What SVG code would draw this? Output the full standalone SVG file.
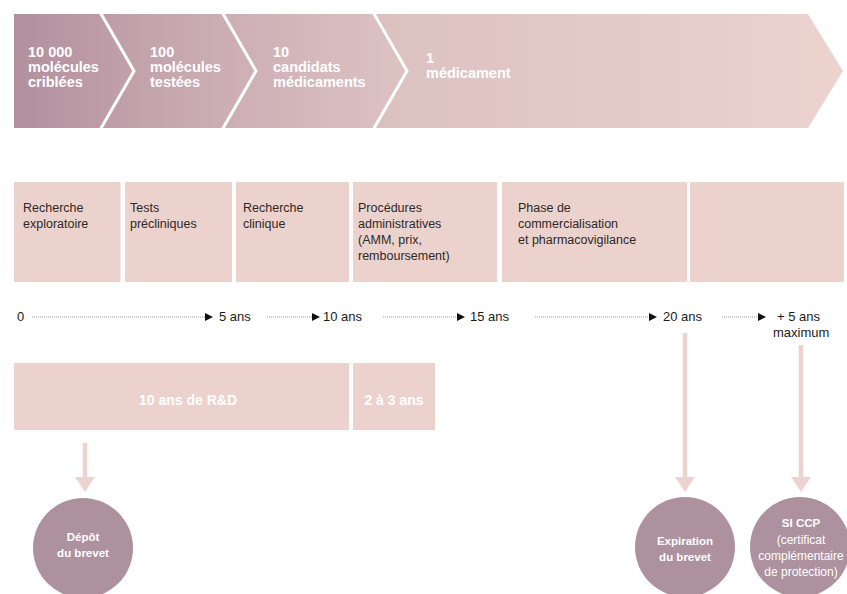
<svg xmlns="http://www.w3.org/2000/svg" width="847" height="594" viewBox="0 0 847 594">
<defs>
<linearGradient id="band" gradientUnits="userSpaceOnUse" x1="14" y1="0" x2="843" y2="0">
<stop offset="0" stop-color="#b28f9d"/>
<stop offset="0.2" stop-color="#c7a8b0"/>
<stop offset="0.45" stop-color="#dcc1c1"/>
<stop offset="1" stop-color="#ecd3ce"/>
</linearGradient>
<marker id="tick" markerUnits="userSpaceOnUse" viewBox="0 0 8 8" refX="0" refY="4" markerWidth="8" markerHeight="8" orient="auto">
<path d="M0,0 L8,4 L0,8 Z" fill="#111"/>
</marker>
<marker id="big" markerUnits="userSpaceOnUse" viewBox="0 0 15 20" refX="0" refY="10" markerWidth="15" markerHeight="20" orient="auto">
<path d="M0,0 L15,10 L0,20 Z" fill="#ecd3cf"/>
</marker>
<style>
.chev{font-family:"Liberation Sans",Arial,sans-serif;font-weight:bold;font-size:14.5px;fill:#fff}
.box{fill:#ecd2cd}
.lbl{font-family:"Liberation Sans",Arial,sans-serif;font-size:12.5px;fill:#2e2826}
.yr{font-family:"Liberation Sans",Arial,sans-serif;font-size:13px;fill:#1a1a1a}
.dur{font-family:"Liberation Sans",Arial,sans-serif;font-weight:bold;font-size:14px;fill:#fff;text-anchor:middle}
.circ{fill:#ad919e}
.ct{font-family:"Liberation Sans",Arial,sans-serif;font-weight:bold;font-size:11.5px;fill:#fff;text-anchor:middle}
.ctn{font-family:"Liberation Sans",Arial,sans-serif;font-size:12px;fill:#fff;text-anchor:middle}
.dot{stroke:#888;stroke-width:0.9;stroke-dasharray:1 1;fill:none}
.pa{stroke:#ecd3cf;stroke-width:4.5;fill:none}
</style>
</defs>
<rect width="847" height="594" fill="#fff"/>

<g id="funnel">
<path d="M14,14 H808 L843,71 L808,128 H14 Z" fill="url(#band)"/>
<g fill="none" stroke="#fff" stroke-width="3">
<polyline points="100,12 134,71 100,130"/>
<polyline points="222,12 256,71 222,130"/>
<polyline points="373,12 407,71 373,130"/>
</g>
</g>
<g id="stage1"><text class="chev" x="28" y="57">10 000</text><text class="chev" x="28" y="72">molécules</text><text class="chev" x="28" y="87">criblées</text></g>
<g id="stage2"><text class="chev" x="150" y="57">100</text><text class="chev" x="150" y="72">molécules</text><text class="chev" x="150" y="87">testées</text></g>
<g id="stage3"><text class="chev" x="273" y="57">10</text><text class="chev" x="273" y="72">candidats</text><text class="chev" x="273" y="87">médicaments</text></g>
<g id="stage4"><text class="chev" x="426" y="63">1</text><text class="chev" x="426" y="78">médicament</text></g>

<g id="phase1"><rect class="box" x="14" y="182" width="106.5" height="100"/><text class="lbl" x="23" y="212">Recherche</text><text class="lbl" x="23" y="228">exploratoire</text></g>
<g id="phase2"><rect class="box" x="125" y="182" width="107" height="100"/><text class="lbl" x="130" y="212">Tests</text><text class="lbl" x="130" y="228">précliniques</text></g>
<g id="phase3"><rect class="box" x="236" y="182" width="113" height="100"/><text class="lbl" x="243" y="212">Recherche</text><text class="lbl" x="243" y="228">clinique</text></g>
<g id="phase4"><rect class="box" x="353" y="182" width="144" height="100"/><text class="lbl" x="358" y="212">Procédures</text><text class="lbl" x="358" y="228">administratives</text><text class="lbl" x="358" y="244">(AMM, prix,</text><text class="lbl" x="358" y="260">remboursement)</text></g>
<g id="phase5"><rect class="box" x="502" y="182" width="185" height="100"/><text class="lbl" x="518" y="212">Phase de</text><text class="lbl" x="518" y="228">commercialisation</text><text class="lbl" x="518" y="244">et pharmacovigilance</text></g>
<g id="phase6"><rect class="box" x="690" y="182" width="154" height="100"/></g>

<g id="timeline-labels">
<text class="yr" x="17" y="321">0</text>
<text class="yr" x="219" y="321">5 ans</text>
<text class="yr" x="323" y="321">10 ans</text>
<text class="yr" x="470" y="321">15 ans</text>
<text class="yr" x="663" y="321">20 ans</text>
<text class="yr" x="777" y="321">+ 5 ans</text>
<text class="yr" x="773" y="336.5" font-size="12.5">maximum</text>
</g>

<g id="rd"><rect class="box" x="14" y="363" width="335" height="67"/><text class="dur" x="188" y="405">10 ans de R&amp;D</text></g>
<g id="admin"><rect class="box" x="353" y="363" width="82" height="67"/><text class="dur" x="394" y="405">2 à 3 ans</text></g>

<g id="connectors">
<line class="dot" x1="32" y1="317" x2="205" y2="317" marker-end="url(#tick)"/>
<line class="dot" x1="267" y1="317" x2="312" y2="317" marker-end="url(#tick)"/>
<line class="dot" x1="383" y1="317" x2="457" y2="317" marker-end="url(#tick)"/>
<line class="dot" x1="535" y1="317" x2="649" y2="317" marker-end="url(#tick)"/>
<line class="dot" x1="722" y1="317" x2="758" y2="317" marker-end="url(#tick)"/>
<line class="pa" x1="85" y1="443" x2="85" y2="477" marker-end="url(#big)"/>
<line class="pa" x1="685" y1="333" x2="685" y2="477" marker-end="url(#big)"/>
<line class="pa" x1="801" y1="345" x2="801" y2="477" marker-end="url(#big)"/>
</g>

<g id="depot"><circle class="circ" cx="83" cy="548" r="50"/><text class="ct" x="83" y="541">Dépôt</text><text class="ct" x="83" y="557">du brevet</text></g>
<g id="expiration"><circle class="circ" cx="685" cy="547" r="50"/><text class="ct" x="685" y="545">Expiration</text><text class="ct" x="685" y="561">du brevet</text></g>
<g id="ccp"><circle class="circ" cx="800" cy="547" r="50"/><text class="ct" x="801" y="527">SI CCP</text><text class="ctn" x="801" y="544">(certificat</text><text class="ctn" x="801" y="560">complémentaire</text><text class="ctn" x="801" y="576">de protection)</text></g>
</svg>
